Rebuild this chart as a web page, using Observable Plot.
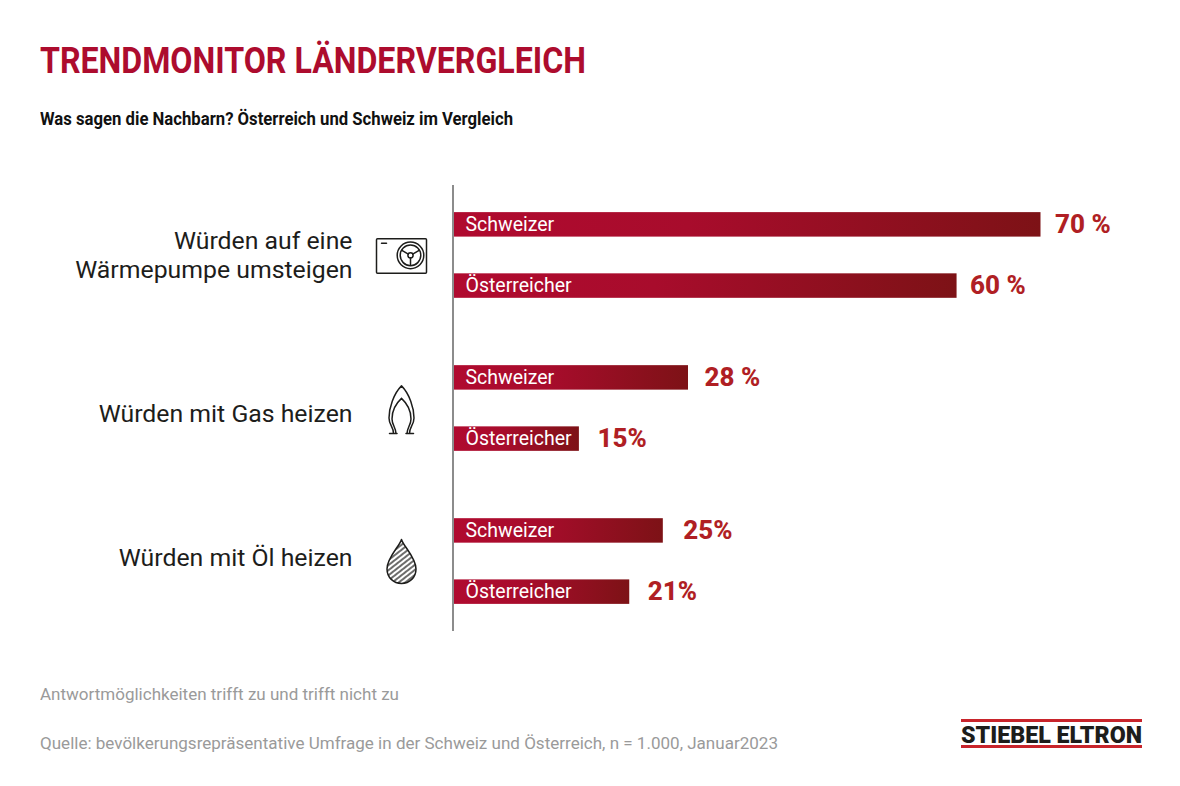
<!DOCTYPE html>
<html lang="de"><head><meta charset="utf-8">
<script src="https://cdn.jsdelivr.net/npm/d3@7"></script>
<script src="https://cdn.jsdelivr.net/npm/@observablehq/plot@0.6"></script>
<style>
html,body{margin:0;background:#fff;width:1180px;height:786px;overflow:hidden;font-family:Roboto,sans-serif}
.t{position:absolute;white-space:nowrap;transform-origin:left top;line-height:1}
#chart{position:absolute;left:0;top:165px}
#chart svg{display:block;overflow:visible}
#logo{position:absolute;left:961px;top:719px;width:181px;height:29px;border-top:3.5px solid #c8242b;border-bottom:3.5px solid #c8242b;box-sizing:border-box}
</style></head><body>
<div class="t" data-w="546" style="left:40px;top:43px;font-size:36px;font-weight:700;color:#ad0c2e">TRENDMONITOR LÄNDERVERGLEICH</div>
<div class="t" data-w="473" style="left:40px;top:111px;font-size:17.5px;font-weight:700;color:#111">Was sagen die Nachbarn? Österreich und Schweiz im Vergleich</div>
<div id="chart"></div>
<div class="t" data-w="359" style="left:40px;top:686px;font-size:17px;color:#9a9a9a">Antwortmöglichkeiten trifft zu und trifft nicht zu</div>
<div class="t" data-w="738" style="left:40px;top:735px;font-size:17px;color:#9a9a9a">Quelle: bevölkerungsrepräsentative Umfrage in der Schweiz und Österreich, n = 1.000, Januar2023</div>
<div id="logo"></div>
<div class="t" data-w="181" style="left:961px;top:723px;font-size:24px;font-weight:900;color:#1d1d1b">STIEBEL ELTRON</div>
<script>
const questions = ["Würden auf eine\nWärmepumpe umsteigen", "Würden mit Gas heizen", "Würden mit Öl heizen"];
const countries = ["Schweizer", "Österreicher"];
const waermepumpe = [70, 60];
const gas = [28, 15];
const oel = [25, 21];
const valueLabels = ["70 %", "60 %", "28 %", "15%", "25%", "21%"];

const series = [waermepumpe, gas, oel];
const rows = questions.flatMap((q, i) => countries.map((c, j) => ({
  key: `${i}-${j}`, question: q, country: c, value: series[i][j], label: valueLabels[i * 2 + j]
})));
// spacer slots separate the three question groups on the band scale
const yDomain = ["0-0", "s0", "0-1", "s1", "s2", "1-0", "s3", "1-1", "s4", "s5", "2-0", "s6", "2-1"];

const ink = "#1d1d1b";
const svgUri = s => "data:image/svg+xml;utf8," + encodeURIComponent(`<svg xmlns="http://www.w3.org/2000/svg" viewBox="0 0 60 60" fill="none" stroke="${ink}" stroke-width="1.5" stroke-linecap="round" stroke-linejoin="round">${s}</svg>`);
const pumpIcon = svgUri(`<rect x="5" y="13" width="50" height="34.5" rx="1"/><path d="M10 17.5h5"/><circle cx="39" cy="29.5" r="13.3"/><circle cx="39" cy="29.5" r="10.3"/><circle cx="39" cy="29.5" r="2.6"/><path d="M39 32v7.5M36.8 28.3l-6.4-3.8M41.2 28.3l6.4-3.8"/>`);
const flameIcon = svgUri(`<path d="M30 6C22 14 17.5 28 17.5 38C17.5 45 22 47 22 53.5M30 6C38 14 42.5 28 42.5 38C42.5 45 38 47 38 53.5M30 18.5C24 24 20.5 32 20.5 39C20.5 45 24.5 48 24.5 53.5M30 18.5C36 24 39.5 32 39.5 39C39.5 45 35.5 48 35.5 53.5M18 53.5h7.5M34.5 53.5h7.5"/>`);
const dropPath = "M30 8C28 15 15.5 26 15.5 37.5C15.5 46 22 52 30 52C38 52 44.5 46 44.5 37.5C44.5 26 32 15 30 8Z";
const dropIcon = svgUri(`<defs><pattern id="h" width="4" height="4" patternUnits="userSpaceOnUse" patternTransform="rotate(-38)"><path d="M0 1H4" stroke-width="1.3" stroke-linecap="butt"/></pattern></defs><path d="${dropPath}" fill="url(#h)"/>`);
const icons = [
  {key: "0-0", src: pumpIcon, dy: 31},
  {key: "1-0", src: flameIcon, dy: 32},
  {key: "2-0", src: dropIcon, dy: 30.5}
];

const gradient = () => {
  const svg = d3.create("svg:g");
  const g = svg.append("defs").append("linearGradient").attr("id", "barFade");
  g.append("stop").attr("offset", "0%").attr("stop-color", "#b00a2f");
  g.append("stop").attr("offset", "40%").attr("stop-color", "#a80c2c");
  g.append("stop").attr("offset", "100%").attr("stop-color", "#7d1216");
  return svg.node();
};

const labelOffsets = [14, 13, 16, 18, 20, 18];
const questionOffsets = [{key: "0-0", dy: 29.5}, {key: "1-0", dy: 34.5}, {key: "2-0", dy: 26}];

const plot = Plot.plot({
  width: 1180, height: 480,
  marginLeft: 453, marginRight: 0, marginTop: 20, marginBottom: 14,
  x: {domain: [0, 70], range: [453, 1040.5], axis: null},
  y: {domain: yDomain, range: [41, 445], padding: 0.2, round: false, axis: null},
  marks: [
    gradient,
    Plot.barX(rows, {x: "value", y: "key", fill: "url(#barFade)"}),
    Plot.ruleX([0], {stroke: "#8c8c8c", strokeWidth: 2, dx: -0.5}),
    Plot.text(rows, {x: 0, y: "key", text: "country", textAnchor: "start", dx: 12, fill: "#fff", fontSize: 19.5, fontFamily: "Roboto"}),
    ...rows.map((r, i) => Plot.text([r], {x: "value", y: "key", text: "label", textAnchor: "start", dx: labelOffsets[i], fill: "#b01f24", fontSize: 26, fontWeight: 800, fontFamily: "Roboto"})),
    ...questions.map((q, i) => Plot.text([q], {
      x: [0], y: [questionOffsets[i].key], text: d => d, textAnchor: "end", lineAnchor: "middle", lineHeight: 1.18,
      dx: -101, dy: questionOffsets[i].dy, fill: ink, fontSize: 24.8, fontFamily: "Roboto"
    })),
    ...icons.map(ic => Plot.image([ic], {x: [0], y: [ic.key], src: "src", width: 60, height: 60, dx: -52, dy: ic.dy}))
  ]
});
document.getElementById("chart").append(plot);
// fit the header, footer and logo text to the reference's widths
document.querySelectorAll(".t").forEach(el => {
  const w = el.getBoundingClientRect().width;
  el.style.transform = `scaleX(${(+el.dataset.w / w).toFixed(4)})`;
});
</script>
</body></html>
